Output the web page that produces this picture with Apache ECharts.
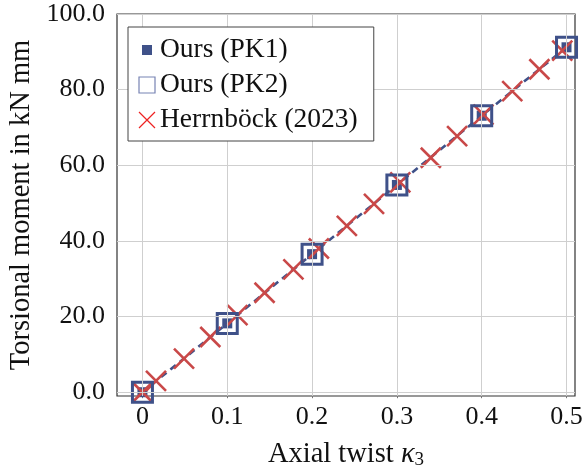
<!DOCTYPE html>
<html>
<head>
<meta charset="utf-8">
<script src="https://cdn.jsdelivr.net/npm/echarts@6/dist/echarts.min.js"></script>
<style>
html, body {margin: 0; padding: 0; background: #fff;}
#chart {width: 587px; height: 468px;}
</style>
</head>
<body>
<div id="chart"></div>
<script>
var ours_x = [0, 0.1, 0.2, 0.3, 0.4, 0.5];
var pk1_y = [0, 18.2, 36.5, 54.8, 73.1, 91.2];
var pk2_y = [0, 18.2, 36.5, 54.8, 73.1, 91.2];
var herr_x = [0, 0.016, 0.049, 0.080, 0.112, 0.144, 0.178, 0.208, 0.241, 0.273, 0.304, 0.340, 0.371, 0.402, 0.436, 0.468, 0.495];
var herr_y = [0, 3.0, 8.9, 14.6, 20.4, 26.3, 32.5, 38.0, 44.0, 49.8, 55.5, 62.0, 67.7, 73.4, 79.6, 85.4, 90.3];
var x_ticks = [0, 0.1, 0.2, 0.3, 0.4, 0.5];
var y_ticks = [0, 20, 40, 60, 80, 100];

var blue = '#3f5189';
var red = '#c94848';
var font = 'Liberation Serif';
var cross = 'path://M0,0L10,10M10,0L0,10';

function pairs(xs, ys){
	var out = [];
	for (var i = 0; i < xs.length; i++) out.push([xs[i], ys[i]]);
	return out;
}

// grid lines drawn as markLines so they follow the custom tick values
function grid_lines(){
	var out = [];
	x_ticks.forEach(function(v){ out.push({xAxis: v}); });
	y_ticks.forEach(function(v){ out.push({yAxis: v}); });
	return out;
}

var myChart = echarts.init(document.getElementById('chart'));

var frameX = {type: 'value', min: -0.03, max: 0.51};
var frameY = {type: 'value', min: -1, max: 100};
var tick = {inside: true, length: 6, lineStyle: {color: '#777'}};

var options = {
	animation: false,
	grid: {left: 117, right: 12, top: 14, bottom: 72, containLabel: false, outerBoundsMode: 'none',
		show: true, borderColor: '#333', borderWidth: 1.2},
	legend: {
		orient: 'vertical', left: 128, top: 27, z: 20,
		backgroundColor: '#fff', borderColor: '#444', borderWidth: 1,
		padding: [9, 16, 7, 8], itemGap: 7, itemWidth: 16, itemHeight: 16,
		textStyle: {fontFamily: font, fontSize: 27.5, color: '#111', lineHeight: 26},
		data: [
			{name: 'Ours (PK1)', icon: 'rect', itemStyle: {color: blue, borderColor: '#fff', borderWidth: 6}},
			{name: 'Ours (PK2)', icon: 'rect', itemStyle: {color: '#fff', borderColor: '#7783b3', borderWidth: 1.2}},
			{name: 'Herrnböck (2023)', icon: cross, itemStyle: {color: 'none', borderColor: '#ee2222', borderWidth: 1.2}}
		]
	},
	xAxis: [
		Object.assign({}, frameX, {
			name: 'Axial twist {i|κ}{s|3}', nameLocation: 'middle', nameGap: 43,
			nameTextStyle: {fontFamily: font, fontSize: 28.5, color: '#111',
				rich: {i: {fontFamily: font, fontStyle: 'italic', fontSize: 28.5, color: '#111'},
					s: {fontFamily: font, fontSize: 19, color: '#111', verticalAlign: 'bottom', padding: [12, 0, 0, 0]}}},
			axisLine: {show: false},
			axisTick: Object.assign({customValues: x_ticks}, tick),
			axisLabel: {customValues: x_ticks, margin: 8, fontFamily: font, fontSize: 26, color: '#111',
				formatter: function(v){ return v === 0 ? '0' : String(v); }},
			splitLine: {show: false}
		}),
		Object.assign({}, frameX, {
			position: 'top', axisLine: {show: false}, axisLabel: {show: false}, splitLine: {show: false},
			axisTick: Object.assign({customValues: x_ticks}, tick)
		})
	],
	yAxis: [
		Object.assign({}, frameY, {
			name: 'Torsional moment in kN mm', nameLocation: 'middle', nameGap: 80,
			nameTextStyle: {fontFamily: font, fontSize: 28.5, color: '#111'},
			axisLine: {show: false},
			axisTick: Object.assign({customValues: y_ticks}, tick),
			axisLabel: {customValues: y_ticks, margin: 12, fontFamily: font, fontSize: 26, color: '#111',
				padding: [4, 0, 0, 0],
				formatter: function(v){ return v.toFixed(1); }},
			splitLine: {show: false}
		}),
		Object.assign({}, frameY, {
			position: 'right', axisLine: {show: false}, axisLabel: {show: false}, splitLine: {show: false},
			axisTick: Object.assign({customValues: y_ticks}, tick)
		})
	],
	series: [
		{name: 'grid', type: 'line', data: [], z: 1, silent: true,
			markLine: {silent: true, symbol: 'none', label: {show: false}, animation: false,
				lineStyle: {color: '#cfcfcf', width: 1, type: 'solid'}, emphasis: {disabled: true},
				data: grid_lines()}},
		{name: 'Herrnböck (2023)', type: 'line', data: pairs(herr_x, herr_y), z: 3,
			lineStyle: {width: 0, opacity: 0}, symbol: cross, symbolSize: 20,
			itemStyle: {color: 'none', borderColor: red, borderWidth: 2.6}},
		{name: 'Ours (PK2)', type: 'line', data: pairs(ours_x, pk2_y), z: 4,
			lineStyle: {width: 0, opacity: 0}, symbol: 'rect', symbolSize: 20,
			itemStyle: {color: 'none', borderColor: blue, borderWidth: 3}},
		{name: 'Ours (PK1)', type: 'line', data: pairs(ours_x, pk1_y), z: 2,
			lineStyle: {color: blue, width: 2.6, type: [7, 5]}, symbol: 'rect', symbolSize: 10,
			itemStyle: {color: blue}}
	]
};

myChart.setOption(options);
</script>
</body>
</html>
